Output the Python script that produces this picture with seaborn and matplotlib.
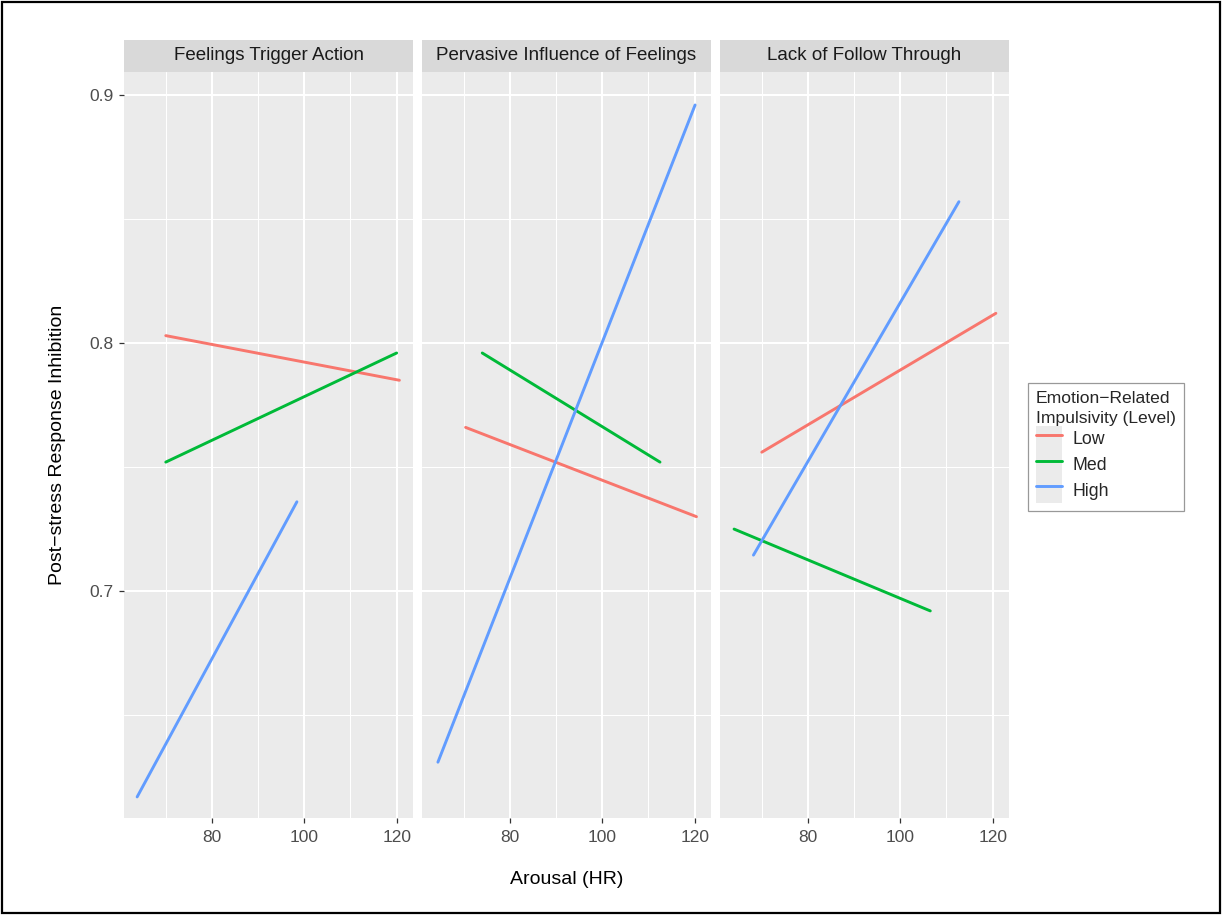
import matplotlib
matplotlib.use("Agg")
import matplotlib.pyplot as plt
from matplotlib.patches import Rectangle
from matplotlib.lines import Line2D
from matplotlib.legend_handler import HandlerLine2D
import pandas as pd
import seaborn as sns

# ---------------- data ----------------
facets = ["Feelings Trigger Action", "Pervasive Influence of Feelings", "Lack of Follow Through"]
levels = ["Low", "Med", "High"]
colors = ["#F8766D", "#00BA38", "#619CFF"]

# per facet: [Low, Med, High]
arousal_start = [[70.0, 70.0, 63.8], [70.4, 74.0, 64.4], [70.0, 64.0, 68.2]]
arousal_end = [[120.6, 120.0, 98.4], [120.4, 112.5, 120.1], [120.7, 106.5, 112.7]]
inhib_start = [[0.803, 0.752, 0.617], [0.766, 0.796, 0.631], [0.756, 0.725, 0.7145]]
inhib_end = [[0.785, 0.796, 0.736], [0.730, 0.752, 0.896], [0.812, 0.692, 0.857]]

x_major = [80, 100, 120]
x_minor = [70, 90, 110]
y_major = [0.7, 0.8, 0.9]
y_minor = [0.65, 0.75, 0.85]
y_ticklabels = ["0.7", "0.8", "0.9"]

rows = []
for fi, f in enumerate(facets):
    for li, lv in enumerate(levels):
        rows.append(dict(facet=f, level=lv, arousal=arousal_start[fi][li], inhib=inhib_start[fi][li]))
        rows.append(dict(facet=f, level=lv, arousal=arousal_end[fi][li], inhib=inhib_end[fi][li]))
df = pd.DataFrame(rows)

# ---------------- style ----------------
sns.set_theme(style="darkgrid")
plt.rcParams["font.family"] = ["Liberation Sans", "DejaVu Sans"]

W, H = 1222, 915
fig = plt.figure(figsize=(W / 100, H / 100), dpi=100)
fig.patch.set_facecolor("white")

# x limits with ggplot-like 5% expansion
xmin, xmax = df["arousal"].min(), df["arousal"].max()
xr = xmax - xmin
xlim = (xmin - 0.05 * xr, xmax + 0.05 * xr)
ylim = (0.6085, 0.9093)

panel_top, panel_bottom = 72, 818
strip_top = 40
lefts = [124, 422, 720]
pw = 289

palette = dict(zip(levels, colors))
axes = []
for i, f in enumerate(facets):
    ax = fig.add_axes([lefts[i] / W, (H - panel_bottom) / H, pw / W, (panel_bottom - panel_top) / H])
    ax.set_facecolor("#EBEBEB")
    sub = df[df["facet"] == f]
    sns.lineplot(data=sub, x="arousal", y="inhib", hue="level", hue_order=levels,
                 palette=palette, estimator=None, linewidth=2.1, legend=False, ax=ax, zorder=3)
    ax.set_xlim(*xlim)
    ax.set_ylim(*ylim)
    ax.set_xticks(x_major)
    ax.set_xticks(x_minor, minor=True)
    ax.set_yticks(y_major)
    ax.set_yticks(y_minor, minor=True)
    ax.grid(which="major", color="white", linewidth=1.5)
    ax.grid(which="minor", color="white", linewidth=0.75)
    for s in ax.spines.values():
        s.set_visible(False)
    ax.set_xlabel("")
    ax.set_ylabel("")
    ax.tick_params(axis="x", which="major", length=3.6, width=0.9, color="#333333",
                   labelsize=12.5, labelcolor="#4D4D4D", pad=5, bottom=True)
    ax.tick_params(which="minor", length=0)
    if i == 0:
        ax.set_yticklabels(y_ticklabels)
        ax.tick_params(axis="y", which="major", length=3.6, width=0.9, color="#333333",
                       labelsize=12.5, labelcolor="#4D4D4D", pad=4, left=True)
    else:
        ax.tick_params(axis="y", which="major", length=0, labelleft=False)
    # strip
    sax = fig.add_axes([lefts[i] / W, (H - panel_top) / H, pw / W, (panel_top - strip_top) / H])
    sax.set_facecolor("#D9D9D9")
    sax.set_xticks([])
    sax.set_yticks([])
    for s in sax.spines.values():
        s.set_visible(False)
    sax.text(0.5, 0.5, f, ha="center", va="center", fontsize=13.5, color="#1A1A1A",
             transform=sax.transAxes)
    axes.append(ax)

# axis titles
fig.text((lefts[0] + lefts[2] + pw) / 2 / W, (H - 880) / H, "Arousal (HR)",
         ha="center", va="center", fontsize=14, color="black")
fig.text(57 / W, (H - (panel_top + panel_bottom) / 2) / H, "Post\u2212stress Response Inhibition",
         ha="center", va="center", rotation=90, fontsize=14, color="black")


# legend with gray key backgrounds
class KeyHandler(HandlerLine2D):
    def create_artists(self, legend, orig_handle, xdescent, ydescent, width, height, fontsize, trans):
        rect = Rectangle((-xdescent, -ydescent), width, height, facecolor="#EBEBEB",
                         edgecolor="none", transform=trans)
        arts = super().create_artists(legend, orig_handle, xdescent, ydescent, width, height, fontsize, trans)
        return [rect] + list(arts)


handles = [Line2D([0], [0], color=c, linewidth=2.1) for c in colors]
leg = fig.legend(handles, levels, title="Emotion\u2212Related\nImpulsivity (Level)",
                 loc="center left", bbox_to_anchor=(1028 / W, (H - 447) / H),
                 frameon=True, fancybox=False, edgecolor="#808080", facecolor="white",
                 fontsize=12.8, title_fontsize=12.6, handlelength=1.45, handleheight=1.85,
                 labelspacing=0.0, handletextpad=0.6, borderpad=0.45, borderaxespad=0.0,
                 alignment="left", handler_map={Line2D: KeyHandler()})
leg.get_frame().set_linewidth(0.9)
leg.get_title().set_linespacing(1.35)

# outer border
fig.patches.append(Rectangle((0.0015, 0.002), 0.997, 0.996, transform=fig.transFigure,
                             fill=False, edgecolor="black", linewidth=1.6))

fig.savefig("out.png", dpi=100, facecolor="white")
